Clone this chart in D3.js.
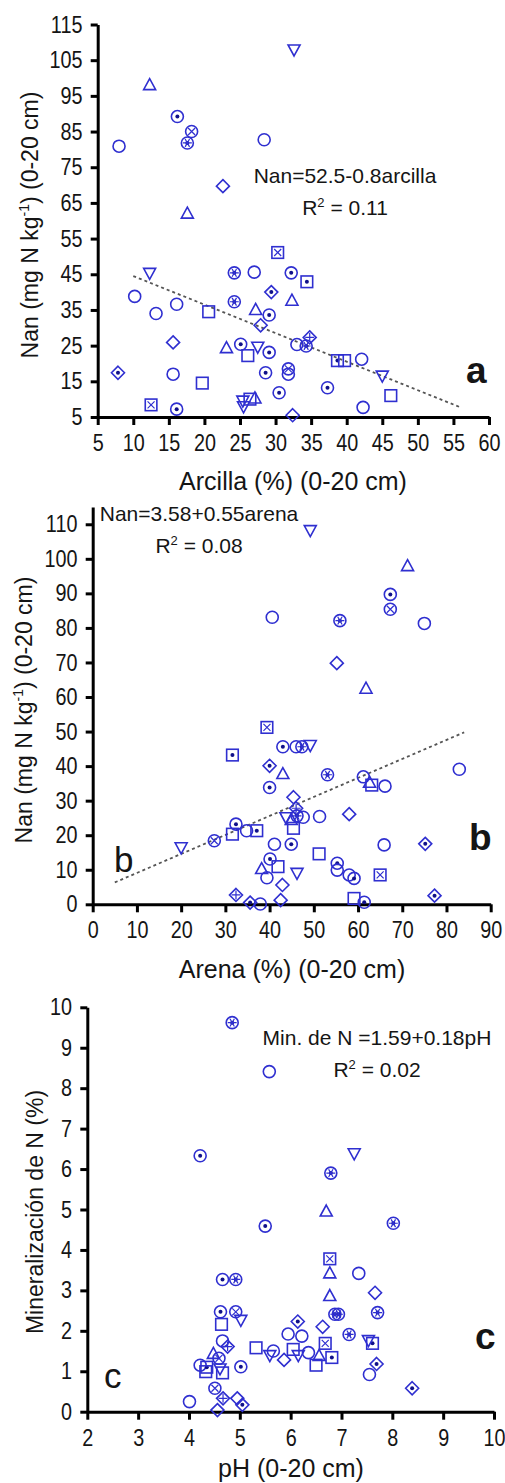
<!DOCTYPE html>
<html>
<head>
<meta charset="utf-8">
<script src="https://cdn.jsdelivr.net/npm/d3@7"></script>
<style>
  body { margin: 0; background: #fff; }
  svg text { font-family: "Liberation Sans", Arial, sans-serif; fill: #151515; }
</style>
</head>
<body>
<div id="chart"></div>
<script>
var BLUE = "#2f2fd0";
var DOT = "#10108a";

// panel a: arcilla vs Nan
var aArcilla = [12.3, 32.6, 16.2, 18.2, 17.6, 8.0, 28.4, 22.6, 17.6, 30.3, 12.3, 24.2, 27.0, 32.2, 34.4, 10.2, 29.4, 24.2, 32.3, 16.1,
  13.2, 20.6, 27.2, 29.1, 27.9, 15.6, 23.1, 25.1, 27.5, 26.1, 29.1, 33.0, 34.3, 34.8, 38.7, 39.7, 42.1, 7.85, 15.6, 19.7,
  28.6, 31.8, 31.8, 37.3, 45.0, 46.2, 30.5, 25.4, 25.5, 26.4, 27.1, 12.5, 16.1, 32.4, 42.3];
var aNan = [98, 108, 89.2, 85, 81.8, 80.9, 82.7, 69.7, 62, 51.1, 45.4, 45.4, 45.6, 45.4, 42.9, 38.8, 40.0, 37.3, 37.6, 36.6,
  34.0, 34.5, 35.0, 33.6, 30.7, 25.9, 24.3, 25.4, 24.7, 22.2, 23.1, 25.3, 24.9, 27.3, 20.8, 20.8, 21.2, 17.4, 17.0, 14.5,
  17.4, 18.5, 17.0, 13.2, 16.6, 11.0, 11.8, 9.6, 8.0, 10.0, 10.2, 8.4, 7.2, 5.5, 7.7];
var aSym = ["tu", "td", "od", "ox", "oa", "o", "o", "di", "tu", "sx", "td", "oa", "o", "od", "sd", "o", "dd", "oa", "tu", "o",
  "o", "s", "tu", "od", "di", "di", "tu", "od", "td", "s", "od", "o", "oa", "dp", "sd", "s", "o", "dd", "o", "s",
  "od", "ox", "o", "od", "td", "s", "od", "td", "td", "s", "tu", "sx", "od", "di", "o"];
var aFit = {b0: 52.5, b1: -0.8, from: 10, to: 56};

// panel b: arena vs Nan
var bArena = [49.2, 71.2, 67.3, 67.3, 40.6, 55.9, 75.0, 55.2, 61.8, 39.4, 31.6, 43.0, 46.0, 47.3, 49.2, 40.0, 43.0, 53.1, 40.0, 82.9,
  61.2, 62.6, 63.1, 66.1, 45.4, 58.0, 46.0, 43.7, 44.9, 46.2, 47.6, 45.4, 51.3, 32.4, 31.6, 34.8, 37.1, 27.5, 20.0, 41.1,
  44.9, 51.2, 65.9, 75.2, 40.1, 39.4, 38.2, 41.9, 46.2, 42.9, 55.3, 55.3, 58.0, 59.1, 65.0, 32.4, 77.3, 35.6, 37.9, 42.5,
  59.1, 61.4];
var bNan = [108.3, 97.9, 89.7, 85.4, 83.1, 82.1, 81.3, 69.8, 62.4, 51.2, 43.2, 45.6, 45.6, 45.6, 46.1, 40.1, 37.7, 37.5, 33.8, 39.1,
  36.9, 35.2, 34.5, 34.2, 31.0, 26.1, 27.8, 25.2, 24.4, 25.6, 25.2, 22.0, 25.4, 23.2, 20.3, 21.3, 21.3, 18.4, 16.5, 17.4,
  17.4, 14.6, 17.2, 17.5, 13.1, 7.7, 10.2, 10.9, 9.1, 5.6, 11.9, 9.9, 8.5, 7.5, 8.5, 2.7, 2.5, 0.5, 0.1, 1.2,
  1.7, 0.6];
var bSym = ["td", "tu", "od", "ox", "o", "oa", "o", "di", "tu", "sx", "sd", "od", "o", "oa", "td", "dd", "tu", "oa", "od", "o",
  "o", "tu", "s", "o", "di", "di", "dp", "td", "tu", "oa", "o", "s", "o", "od", "s", "o", "sd", "ox", "td", "o",
  "od", "s", "o", "dd", "od", "o", "tu", "s", "td", "di", "od", "o", "o", "od", "sx", "dp", "dd", "dd", "o", "di",
  "s", "od"];
var bFit = {b0: 3.58, b1: 0.55, from: 5, to: 84};

// panel c: pH vs mineralizacion
var cPH = [4.85, 5.58, 4.22, 7.25, 6.79, 6.70, 5.50, 8.02, 6.77, 6.77, 7.34, 6.77, 7.66, 4.66, 4.92, 4.62, 4.92, 4.64, 5.02, 6.87,
  6.94, 7.71, 6.14, 6.63, 5.95, 6.22, 7.15, 7.61, 7.53, 6.68, 6.81, 6.50, 6.56, 6.35, 6.05, 6.15, 5.32, 5.66, 5.59, 5.87,
  7.69, 7.55, 8.39, 4.76, 4.66, 4.48, 4.59, 4.22, 4.35, 4.33, 4.66, 4.61, 5.02, 4.51, 4.67, 4.95, 4.56, 5.05, 4.01];
var cMin = [9.62, 8.41, 6.33, 6.39, 5.90, 4.95, 4.59, 4.66, 3.78, 3.42, 3.42, 2.86, 2.94, 3.27, 3.27, 2.47, 2.47, 2.16, 2.27, 2.41,
  2.41, 2.45, 2.23, 2.10, 1.92, 1.87, 1.91, 1.69, 1.77, 1.69, 1.34, 1.15, 1.38, 1.46, 1.54, 1.40, 1.58, 1.50, 1.40, 1.28,
  1.18, 0.92, 0.58, 1.61, 1.75, 1.43, 1.32, 1.15, 1.10, 0.99, 0.96, 1.07, 1.11, 0.58, 0.33, 0.33, 0.04, 0.17, 0.25];
var cSym = ["oa", "o", "od", "td", "oa", "tu", "od", "oa", "sx", "tu", "o", "tu", "di", "od", "oa", "od", "ox", "s", "td", "oa",
  "oa", "oa", "dd", "di", "o", "o", "oa", "sd", "td", "sx", "sd", "s", "tu", "o", "s", "td", "s", "o", "td", "di",
  "dd", "o", "dd", "dp", "o", "tu", "ox", "o", "sd", "s", "s", "td", "od", "ox", "dp", "di", "di", "dd", "o"];

var svg = d3.select("#chart").append("svg")
    .attr("width", 505)
    .attr("height", 1483);

function drawSym(g, type, cx, cy) {
    var s = g.append("g")
        .attr("transform", "translate(" + cx + "," + cy + ")")
        .attr("fill", "none")
        .attr("stroke", BLUE)
        .attr("stroke-width", 1.6);
    var k = type.charAt(0);
    if (k == "o") s.append("circle").attr("r", 6);
    else if (k == "s") s.append("rect").attr("x", -5.8).attr("y", -5.8).attr("width", 11.6).attr("height", 11.6);
    else if (type == "tu") s.append("path").attr("d", "M0,-6.5L6,4.5L-6,4.5Z");
    else if (type == "td") s.append("path").attr("d", "M0,6.5L6,-4.5L-6,-4.5Z");
    else if (k == "d") s.append("path").attr("d", "M0,-6.5L6.5,0L0,6.5L-6.5,0Z");

    if (type == "od" || type == "sd" || type == "dd" || type == "oa") {
        s.append("circle").attr("r", 2).attr("fill", DOT).attr("stroke", "none");
    }
    if (type == "ox" || type == "sx") {
        s.append("path").attr("d", "M-3.5,-3.5L3.5,3.5M3.5,-3.5L-3.5,3.5").attr("stroke-width", 1.2);
    }
    if (type == "oa") {
        s.append("path").attr("d", "M-4.5,0L4.5,0M-2.2,-3.9L2.2,3.9M2.2,-3.9L-2.2,3.9").attr("stroke-width", 1.2);
    }
    if (type == "dp") {
        s.append("path").attr("d", "M0,-4.5L0,4.5M-4.5,0L4.5,0").attr("stroke-width", 1.2);
    }
}

function styleAxis(ax) {
    ax.select(".domain").attr("stroke", "#000").attr("stroke-width", 3);
    ax.selectAll(".tick line").attr("stroke", "#000").attr("stroke-width", 3);
    ax.selectAll(".tick text")
        .style("font-size", "22px")
        .attr("fill", "#151515")
        .attr("transform", "scale(0.9,1.08)");
}

function panel(o) {
    var x = d3.scaleLinear().domain(o.xd).range(o.xr);
    var y = d3.scaleLinear().domain(o.yd).range(o.yr);
    var g = svg.append("g");

    var ya = g.append("g")
        .attr("transform", "translate(" + o.xr[0] + ",0)")
        .call(d3.axisLeft(y).tickValues(o.yt).tickSize(7).tickSizeOuter(0).tickPadding(10));
    styleAxis(ya);

    var xa = g.append("g")
        .attr("transform", "translate(0," + o.yr[0] + ")")
        .call(d3.axisBottom(x).tickValues(o.xt).tickSize(8).tickSizeOuter(0).tickPadding(8));
    styleAxis(xa);

    if (o.fit) {
        var f = o.fit;
        g.append("line")
            .attr("x1", x(f.from)).attr("y1", y(f.b0 + f.b1 * f.from))
            .attr("x2", x(f.to)).attr("y2", y(f.b0 + f.b1 * f.to))
            .attr("stroke", "#555")
            .attr("stroke-width", 1.8)
            .attr("stroke-dasharray", "3,3");
    }

    for (var i = 0; i < o.xs.length; i++) {
        drawSym(g, o.sym[i], x(o.xs[i]), y(o.ys[i]));
    }

    // axis titles
    g.append("text")
        .attr("x", o.xtitle[1]).attr("y", o.xtitle[2])
        .attr("text-anchor", "middle")
        .style("font-size", "25px")
        .text(o.xtitle[0]);

    var yt = g.append("text")
        .attr("transform", "translate(" + o.ytitle[1] + "," + o.ytitle[2] + ") rotate(-90)")
        .attr("text-anchor", "middle")
        .style("font-size", "23px");
    o.ytitle[0].forEach(function (p) {
        var ts = yt.append("tspan").text(p.t);
        if (p.sup) ts.attr("dy", -9).style("font-size", "14px");
        if (p.after) ts.attr("dy", 9);
    });

    // equation
    var eq = o.eq;
    g.append("text")
        .attr("x", eq.x).attr("y", eq.y1)
        .attr("text-anchor", "middle")
        .style("font-size", "21px")
        .text(eq.t);
    var r2 = g.append("text")
        .attr("x", eq.x).attr("y", eq.y2)
        .attr("text-anchor", "middle")
        .style("font-size", "21px");
    r2.append("tspan").text("R");
    r2.append("tspan").attr("dy", -8).style("font-size", "13px").text("2");
    r2.append("tspan").attr("dy", 8).text(" = " + eq.r2);

    // panel letters
    g.append("text")
        .attr("x", o.bold[1]).attr("y", o.bold[2])
        .style("font-size", "37px").style("font-weight", "bold")
        .attr("fill", "#000")
        .text(o.bold[0]);
    if (o.plain) {
        g.append("text")
            .attr("x", o.plain[1]).attr("y", o.plain[2])
            .style("font-size", "35px")
            .text(o.plain[0]);
    }
}

var nanTitle = [{t: "Nan (mg N kg"}, {t: "-1", sup: true}, {t: ") (0-20 cm)", after: true}];

panel({
    xd: [5, 60], xr: [97.7, 489], yd: [5, 115], yr: [417, 24.5],
    xt: d3.range(5, 61, 5), yt: d3.range(5, 116, 10),
    xs: aArcilla, ys: aNan, sym: aSym, fit: aFit,
    xtitle: ["Arcilla (%) (0-20 cm)", 293, 490],
    ytitle: [nanTitle, 38, 225],
    eq: {t: "Nan=52.5-0.8arcilla", r2: "0.11", x: 345, y1: 183, y2: 215},
    bold: ["a", 466, 383]
});

panel({
    xd: [0, 90], xr: [92.7, 490.7], yd: [0, 115], yr: [904.3, 507],
    xt: d3.range(0, 91, 10), yt: d3.range(0, 111, 10),
    xs: bArena, ys: bNan, sym: bSym, fit: bFit,
    xtitle: ["Arena (%) (0-20 cm)", 292, 978],
    ytitle: [nanTitle, 32, 710],
    eq: {t: "Nan=3.58+0.55arena", r2: "0.08", x: 199, y1: 521, y2: 553},
    bold: ["b", 469, 850],
    plain: ["b", 114, 872]
});

panel({
    xd: [2, 10], xr: [87.3, 494], yd: [0, 10], yr: [1411.7, 1007.3],
    xt: d3.range(2, 11, 1), yt: d3.range(0, 11, 1),
    xs: cPH, ys: cMin, sym: cSym,
    xtitle: ["pH (0-20 cm)", 291, 1477],
    ytitle: [[{t: "Mineralización de N (%)"}], 43, 1212],
    eq: {t: "Min. de N =1.59+0.18pH", r2: "0.02", x: 377, y1: 1045, y2: 1077},
    bold: ["c", 475, 1349],
    plain: ["c", 104, 1388]
});
</script>
</body>
</html>
